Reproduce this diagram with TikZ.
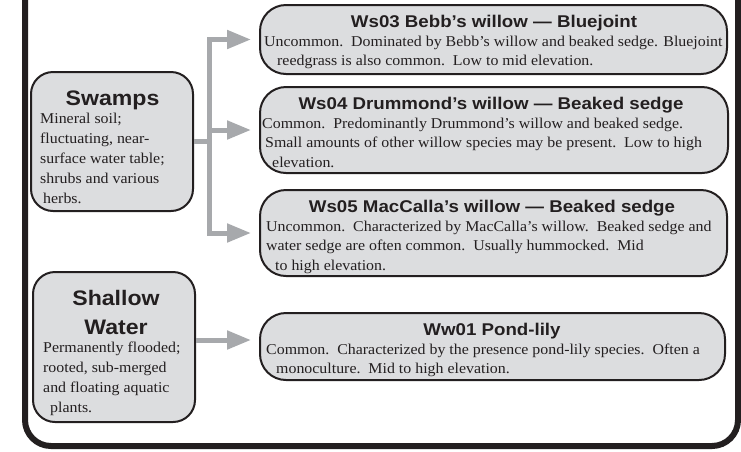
\documentclass[tikz,border=0pt]{standalone}
\usepackage{fontspec}
\setmainfont{Liberation Serif}[FakeStretch=1.06]
\newfontfamily\titlefont{Liberation Sans}[FakeStretch=1.1]
\usetikzlibrary{arrows.meta}
\definecolor{boxgray}{HTML}{DCDDDF}
\definecolor{arrowgray}{HTML}{A7A9AC}
\definecolor{framecol}{HTML}{231F20}
\begin{document}
\begin{tikzpicture}[x=1pt,y=-1pt,
  framebox/.style={draw=framecol,line width=6pt,rounded corners=26pt},
  unitbox/.style={draw=framecol,line width=2pt,fill=boxgray,rounded corners=22pt,inner sep=0pt},
  widebox/.style={unitbox,rounded corners=26pt},
  ttl/.style={font=\titlefont\bfseries\fontsize{17}{20}\selectfont,inner sep=0pt,anchor=base,text=framecol},
  bigttl/.style={font=\titlefont\bfseries\fontsize{21}{29}\selectfont,inner sep=0pt,anchor=base,text=framecol,align=center},
  body/.style={font=\fontsize{15}{19.5}\selectfont,align=left,inner sep=0pt,anchor=base west,text=framecol},
  sbody/.style={font=\fontsize{15}{20}\selectfont,align=left,inner sep=0pt,anchor=base west,text=framecol},
  gline/.style={draw=arrowgray,line width=5pt},
  garrow/.style={draw=arrowgray,line width=5pt,-{Triangle[length=24pt,width=18pt]},shorten >=8pt}]
\useasboundingbox (0,0) rectangle (741,451);
% outer frame
\draw[framebox] (25,-40) -- (25,446) -- (738,446) -- (738,-40);
% left boxes
\node[unitbox,minimum width=162pt,minimum height=139pt] (swamps) at (112,141.5) {};
\node[unitbox,minimum width=162pt,minimum height=150pt] (shallow) at (114,347) {};
% right boxes
\node[widebox,minimum width=467pt,minimum height=69pt] (ws03) at (493.5,39.5) {};
\node[widebox,minimum width=468pt,minimum height=86pt] (ws04) at (494,130) {};
\node[widebox,minimum width=467pt,minimum height=86pt] (ws05) at (493.5,233) {};
\node[widebox,minimum width=465pt,minimum height=67pt] (ww01) at (492.5,346.5) {};
% left texts (base anchor = baseline of last line)
\node[bigttl] (swampst) at (112.5,105) {Swamps};
\node[sbody] (swampsb) at (40,203) {Mineral soil;\\fluctuating, near-\\surface water table;\\shrubs and various\\\hspace*{3pt}herbs.};
\node[bigttl] (shallowt) at (116,334.5) {Shallow\\Water};
\node[sbody] (shallowb) at (43,412) {Permanently flooded;\\rooted, sub-merged\\and floating aquatic\\\hspace*{7pt}plants.};
% right texts
\node[ttl] (ws03t) at (494,27) {Ws03 Bebb’s willow — Bluejoint};
\node[body] (ws03b) at (264,65.5) {Uncommon.\ \ Dominated by Bebb’s willow and beaked sedge. Bluejoint\\\hspace*{13pt}reedgrass is also common.\ \ Low to mid elevation.};
\node[ttl] (ws04t) at (491,109) {Ws04 Drummond’s willow — Beaked sedge};
\node[body] (ws04b) at (262,167) {Common.\ \ Predominantly Drummond’s willow and beaked sedge.\\\hspace*{3pt}Small amounts of other willow species may be present.\ \ Low to high\\\hspace*{10pt}elevation.};
\node[ttl] (ws05t) at (492,212) {Ws05 MacCalla’s willow — Beaked sedge};
\node[body] (ws05b) at (266,270) {Uncommon.\ \ Characterized by MacCalla’s willow.\ \ Beaked sedge and\\water sedge are often common.\ \ Usually hummocked.\ \ Mid\\\hspace*{9pt}to high elevation.};
\node[ttl] (ww01t) at (492,335) {Ww01 Pond-lily};
\node[body] (ww01b) at (266,373.5) {Common.\ \ Characterized by the presence pond-lily species.\ \ Often a\\\hspace*{10pt}monoculture.\ \ Mid to high elevation.};
% connectors
\coordinate (j) at (209,141.5);
\coordinate (sw) at (0,340);
\draw[gline] (swamps.east) -- (j);
\draw[garrow] (j) |- (ws03.west);
\draw[garrow] (j) |- (ws04.west);
\draw[garrow] (j) |- (ws05.west);
\draw[garrow] (shallow.east |- sw) -- (ww01.west |- sw);
\end{tikzpicture}
\end{document}
